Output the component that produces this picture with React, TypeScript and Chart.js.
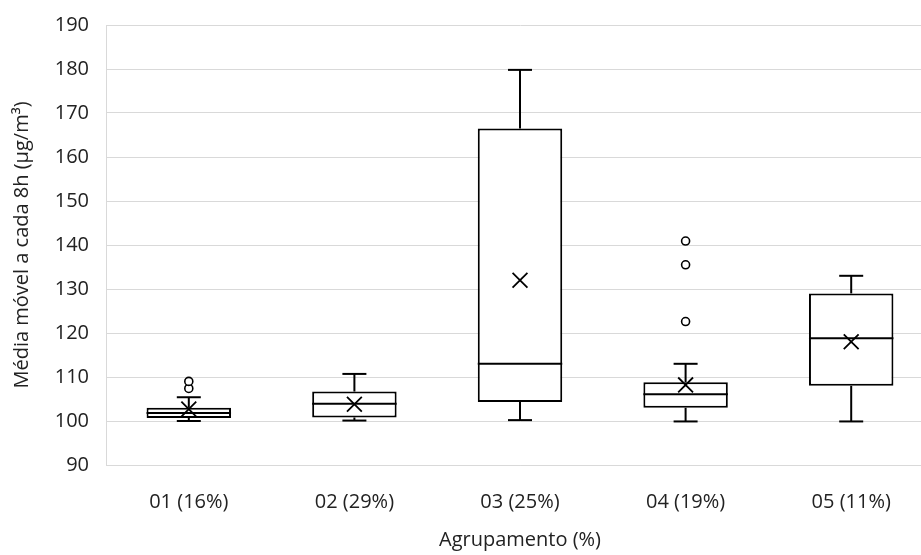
import React, { useEffect, useRef } from "react";
import { Chart, registerables } from "chart.js";

Chart.register(...registerables);

const categories = ["01 (16%)", "02 (29%)", "03 (25%)", "04 (19%)", "05 (11%)"];
const whiskerMin = [100.0, 100.1, 100.2, 99.9, 99.9];
const q1 = [100.7, 100.8, 104.3, 103.0, 108.0];
const median = [101.8, 103.9, 113.0, 106.1, 118.8];
const q3 = [103.0, 106.7, 166.5, 108.8, 129.0];
const whiskerMax = [105.4, 110.7, 179.8, 113.0, 133.0];
const means = [102.7, 103.8, 132.0, 108.2, 118.0];
const outlierCategory = ["01 (16%)", "01 (16%)", "04 (19%)", "04 (19%)", "04 (19%)"];
const outlierValue = [107.4, 109.0, 122.6, 135.5, 140.9];
const yTicks = [90, 100, 110, 120, 130, 140, 150, 160, 170, 180, 190];

const FONT = "'Open Sans', sans-serif";

const boxPlugin = {
  id: "boxParts",
  beforeDatasetsDraw(chart: any) {
    const ctx = chart.ctx;
    const x = chart.scales.x;
    const y = chart.scales.y;
    ctx.save();
    ctx.strokeStyle = "#000";
    ctx.lineWidth = 2;
    const cap = 12;
    categories.forEach((c, i) => {
      const cx = x.getPixelForValue(i);
      const segs = [
        [q3[i], whiskerMax[i]],
        [q1[i], whiskerMin[i]],
      ];
      segs.forEach(([a, b]) => {
        ctx.beginPath();
        ctx.moveTo(cx, y.getPixelForValue(a));
        ctx.lineTo(cx, y.getPixelForValue(b));
        ctx.stroke();
        ctx.beginPath();
        ctx.moveTo(cx - cap, y.getPixelForValue(b));
        ctx.lineTo(cx + cap, y.getPixelForValue(b));
        ctx.stroke();
      });
    });
    ctx.restore();
  },
  afterDatasetDraw(chart: any, args: any) {
    if (args.index !== 0) return;
    const ctx = chart.ctx;
    const y = chart.scales.y;
    const meta = chart.getDatasetMeta(0);
    ctx.save();
    ctx.strokeStyle = "#000";
    ctx.lineWidth = 2;
    meta.data.forEach((bar: any, i: number) => {
      const py = y.getPixelForValue(median[i]);
      const half = bar.width / 2;
      ctx.beginPath();
      ctx.moveTo(bar.x - half, py);
      ctx.lineTo(bar.x + half, py);
      ctx.stroke();
    });
    ctx.restore();
  },
};

export default function App() {
  const ref = useRef<HTMLCanvasElement>(null);
  useEffect(() => {
    if (!ref.current) return;
    const chart = new Chart(ref.current, {
      type: "bar",
      data: {
        labels: categories,
        datasets: [
          {
            type: "bar",
            data: categories.map((_, i) => [q1[i], q3[i]]) as any,
            backgroundColor: "#ffffff",
            borderColor: "#000000",
            borderWidth: 2,
            borderSkipped: false,
            barPercentage: 0.51,
            categoryPercentage: 1,
            grouped: false,
            order: 3,
          } as any,
          {
            type: "line",
            data: outlierValue.map((v, i) => ({ x: outlierCategory[i], y: v })) as any,
            showLine: false,
            pointStyle: "circle",
            pointRadius: 4,
            pointBackgroundColor: "#ffffff",
            pointBorderColor: "#000000",
            pointBorderWidth: 1.6,
            order: 2,
          } as any,
          {
            type: "line",
            data: means,
            showLine: false,
            pointStyle: "crossRot",
            pointRadius: 10.5,
            pointBorderColor: "#000000",
            pointBorderWidth: 1.8,
            order: 1,
          } as any,
        ],
      },
      options: {
        animation: false,
        responsive: false,
        maintainAspectRatio: false,
        layout: { autoPadding: false, padding: { top: 25, right: 2, left: 0, bottom: 0 } },
        plugins: {
          legend: { display: false },
          tooltip: { enabled: false },
        },
        scales: {
          x: {
            afterFit: (s: any) => {
              s.height = 90;
              s.paddingLeft = 0;
              s.paddingRight = 0;
            },
            grid: { display: false, drawTicks: false },
            border: { display: true, color: "#d9d9d9" },
            ticks: { color: "#222", font: { family: FONT, size: 20 }, padding: 25, maxRotation: 0, autoSkip: false },
            title: {
              display: true,
              text: "Agrupamento (%)",
              color: "#222",
              font: { family: FONT, size: 20 },
              padding: { top: 14, bottom: 3 },
            },
          },
          y: {
            min: 90,
            max: 190,
            afterFit: (s: any) => {
              s.width = 106;
              s.paddingTop = 0;
              s.paddingBottom = 0;
            },
            afterBuildTicks: (s: any) => {
              s.ticks = yTicks.map((v) => ({ value: v }));
            },
            grid: { color: "#d9d9d9", lineWidth: 1, drawTicks: false },
            border: { display: true, color: "#d9d9d9" },
            ticks: { color: "#222", font: { family: FONT, size: 20 }, padding: 17 },
            title: {
              display: true,
              text: "Média móvel a cada 8h (µg/m³)",
              color: "#222",
              font: { family: FONT, size: 20 },
              padding: { top: 10, bottom: 10 },
            },
          },
        },
      },
      plugins: [boxPlugin],
    });
    return () => chart.destroy();
  }, []);
  return (
    <div style={{ position: "fixed", left: 0, top: 0, width: 921, height: 555, overflow: "hidden", background: "#fff" }}>
      <canvas ref={ref} width={936} height={555} style={{ width: 936, height: 555, display: "block" }} />
    </div>
  );
}
